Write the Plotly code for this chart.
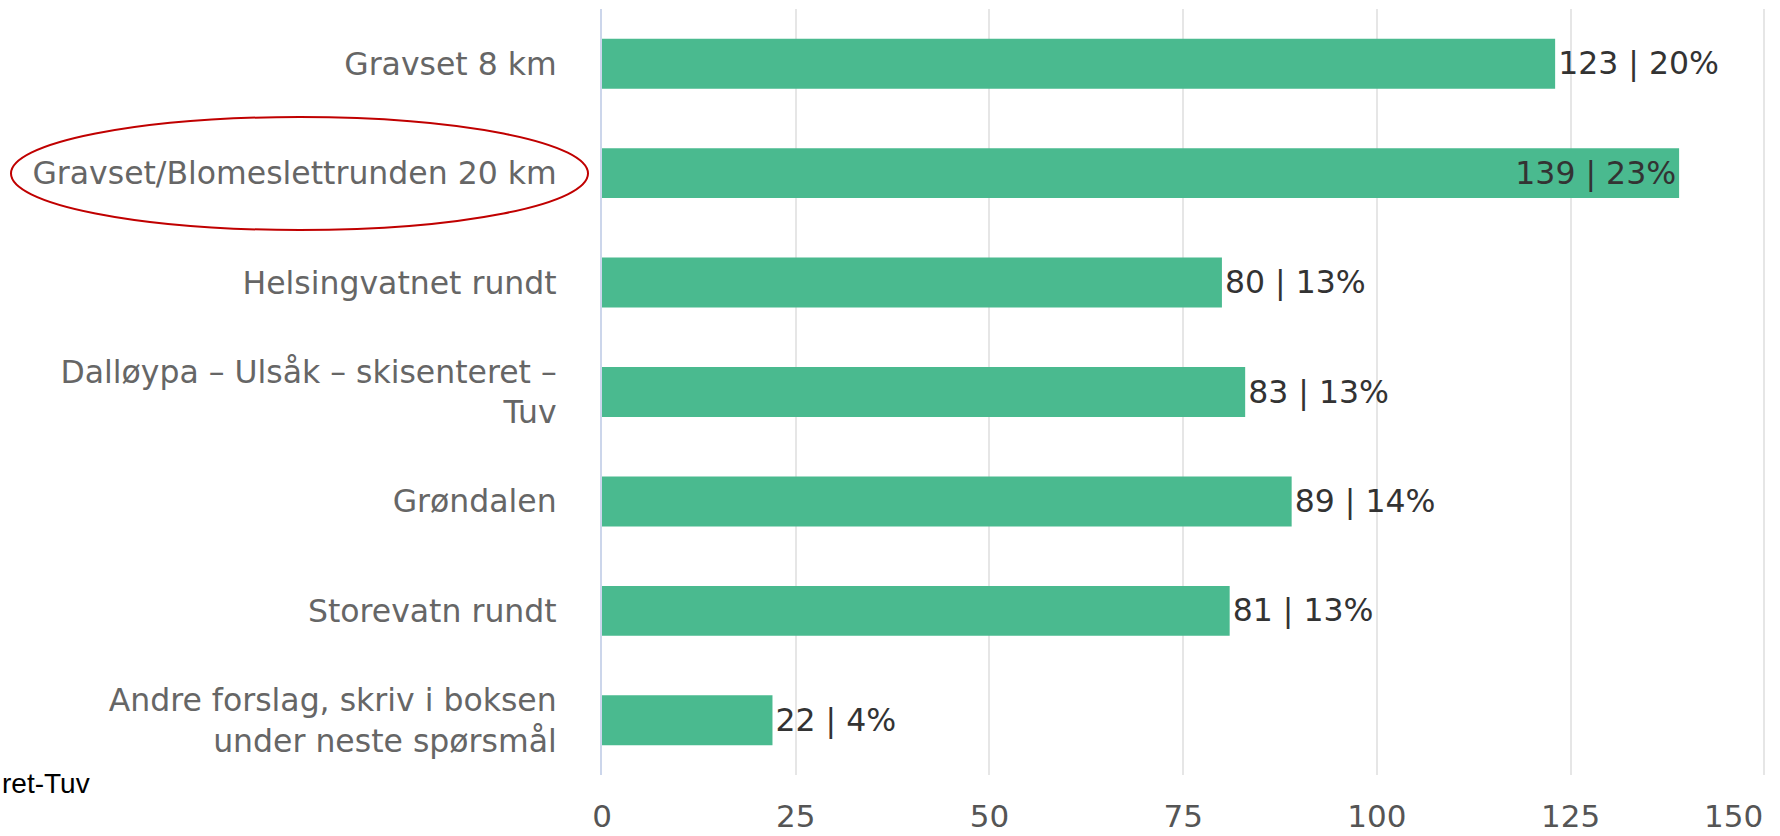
import plotly.graph_objects as go

categories = [
    "Gravset 8 km",
    "Gravset/Blomeslettrunden 20 km",
    "Helsingvatnet rundt",
    "Dalløypa – Ulsåk – skisenteret –<br>Tuv",
    "Grøndalen",
    "Storevatn rundt",
    "Andre forslag, skriv i boksen<br>under neste spørsmål",
]
counts = [123, 139, 80, 83, 89, 81, 22]
percents = [20, 23, 13, 13, 14, 13, 4]
x_ticks = [0, 25, 50, 75, 100, 125, 150]

BAR_COLOR = "#4aba8f"
FONT = "DejaVu Sans"
TICK_COLOR = "#555555"

# body margin is removed in the page (see post_script), so the figure
# fills the whole 1780 x 836 window
W, H = 1780, 836
X_MAX = 150.6
# plot area in page pixels: x=0 at 602, x=150 at 1764, top 9, bottom 775
PX0, PX150, PTOP, PBOT = 602, 1764, 9, 775
PW = round((PX150 - PX0) * X_MAX / 150)
L = PX0
R = W - L - PW
T = PTOP
B = H - PBOT
PH = H - T - B


def px_x(px):
    return (px - L) / PW


def px_y(py):
    return (H - B - py) / PH


labels = [f"{c} | {p}%" for c, p in zip(counts, percents)]
# the longest bar has its label pushed inside the bar
positions = ["inside" if c == max(counts) else "outside" for c in counts]

label_font = dict(family=FONT, size=31.5, color="#333333")

fig = go.Figure(
    go.Bar(
        x=counts,
        y=categories,
        orientation="h",
        marker=dict(color=BAR_COLOR, line=dict(width=0)),
        text=labels,
        textposition=positions,
        insidetextanchor="end",
        textfont=label_font,
        insidetextfont=label_font,
        outsidetextfont=label_font,
        cliponaxis=False,
        constraintext="none",
        hoverinfo="x+y",
    )
)

# last x tick label sits flush against the right edge, left of its gridline
tick_text = [str(v) for v in x_ticks[:-1]] + [""]

fig.update_layout(
    width=W,
    height=H,
    margin=dict(l=L, r=R, t=T, b=B, pad=0),
    plot_bgcolor="white",
    paper_bgcolor="white",
    bargap=0.544,
    showlegend=False,
    xaxis=dict(
        range=[0, X_MAX],
        tickvals=x_ticks,
        ticktext=tick_text,
        automargin=False,
        showgrid=True,
        gridcolor="#e6e6e6",
        gridwidth=2,
        zeroline=False,
        showline=False,
        tickfont=dict(family=FONT, size=31, color=TICK_COLOR),
        ticks="",
        ticklabelstandoff=20,
    ),
    yaxis=dict(
        autorange="reversed",
        automargin=False,
        showgrid=False,
        zeroline=False,
        showline=True,
        linecolor="#ccd6eb",
        linewidth=2,
        ticks="",
        tickfont=dict(family=FONT, size=31.5, color="#666666"),
        ticklabelstandoff=37,
    ),
    shapes=[
        dict(
            type="circle",
            xref="paper",
            yref="paper",
            x0=px_x(11),
            x1=px_x(588),
            y0=px_y(230),
            y1=px_y(117),
            line=dict(color="#c00000", width=2),
            layer="above",
        )
    ],
    annotations=[
        dict(
            text=str(x_ticks[-1]),
            xref="x",
            yref="paper",
            x=x_ticks[-1],
            y=px_y(H - 1),
            xanchor="right",
            yanchor="bottom",
            borderpad=0,
            showarrow=False,
            font=dict(family=FONT, size=31, color=TICK_COLOR),
        ),
        dict(
            text="ret-Tuv",
            xref="paper",
            yref="paper",
            x=px_x(0),
            y=px_y(783),
            xanchor="left",
            yanchor="middle",
            showarrow=False,
            font=dict(family="Liberation Sans", size=28, color="#000000"),
        ),
    ],
)

fig.write_html(
    "out.html",
    config={"displayModeBar": False},
    post_script="document.body.style.margin = '0'; document.body.style.overflow = 'hidden';",
)
